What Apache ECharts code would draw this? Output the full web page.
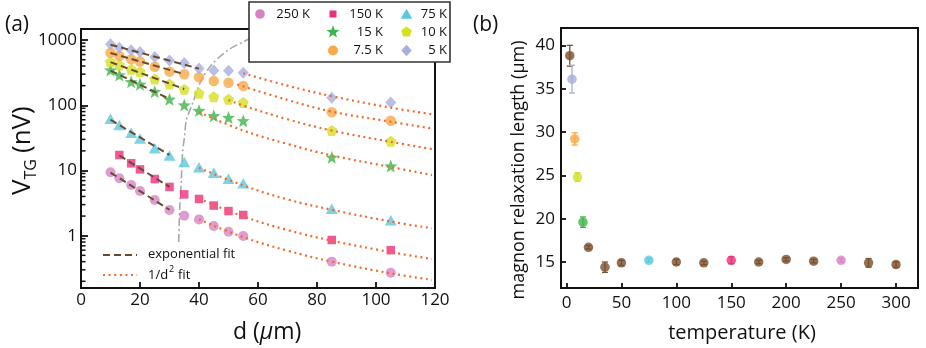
<!DOCTYPE html>
<html><head><meta charset="utf-8">
<script src="https://cdn.jsdelivr.net/npm/echarts@6/dist/echarts.min.js"></script>
<style>html,body{margin:0;padding:0;background:#fff}#c{width:926px;height:348px}</style>
</head><body><div id="c"></div>
<script>
// ---------------- data: panel (a) ----------------
const distances = [10, 13, 17, 20, 25, 30, 35, 40, 45, 50, 55, 85, 105];
const seriesNames = ['250 K', '150 K', '75 K', '15 K', '10 K', '7.5 K', '5 K'];
const v250K = [9.4, 7.6, 6.0, 4.85, 3.53, 2.48, 2.03, 1.78, 1.41, 1.15, 0.99, 0.40, 0.27];
const v150K = [null, 17.3, 12.9, 10.4, 7.4, 5.6, 4.3, 3.66, 2.9, 2.39, 2.08, 0.86, 0.60];
const v75K  = [62, 50, 38, 31, 22, 17, 13.5, 11.2, 9.2, 7.5, 6.4, 2.6, 1.72];
const v15K  = [348, 292, 230, 210, 162, 124, 101, 83, 69, 65, 58, 16, 11.7];
const v10K  = [466, 415, 357, 328, 253, 212, 176, 153, 135, 124, 110, 41, 28];
const v7_5K = [641, 570, 508, 470, 391, 328, 299, 269, 236, 222, 198, 78, 58];
const v5K   = [863, 764, 698, 657, 550, 486, 446, 367, 342, 339, 316, 131, 110];

// exponential fits (dashed): [d, V]
const expFit250K = [[10, 9.3], [30, 2.5]];
const expFit150K = [[13, 17], [30, 5.6]];
const expFit75K  = [[10, 60], [30, 17.3]];
const expFit15K  = [[10, 340], [30, 125]];
const expFit10K  = [[10, 460], [35, 178]];
const expFit7_5K = [[10, 635], [35, 300]];
const expFit5K   = [[10, 850], [40, 365]];

// 1/d^2 fits (dotted): [d, V]
const invFit250K = [[40, 1.78], [55, 0.95], [70, 0.59], [85, 0.40], [105, 0.265], [119, 0.21]];
const invFit150K = [[40, 3.7], [55, 1.98], [70, 1.22], [85, 0.84], [105, 0.56], [119, 0.44]];
const invFit75K  = [[40, 11], [55, 5.9], [70, 3.6], [85, 2.5], [105, 1.65], [119, 1.3]];
const invFit15K  = [[40, 78], [55, 41], [70, 25.5], [85, 17], [105, 11.3], [119, 8.5]];
const invFit10K  = [[50, 120], [55, 99], [70, 61], [85, 41], [105, 27.5], [119, 21.3]];
const invFit7_5K = [[53, 208], [70, 121], [85, 80], [105, 56], [119, 44]];
const invFit5K   = [[55, 310], [70, 200], [85, 138], [105, 92], [119, 73]];

// boundary guide curve (dash-dot): [d, V]
const boundaryCurve = [[33.1, 0.8], [33.5, 2.8], [34.0, 7.2], [34.5, 20.6], [35.1, 33], [35.7, 59],
  [37.4, 95], [40.8, 244], [44.7, 441], [49.9, 705], [54.4, 912], [57, 1050], [60, 1300]];

const minorTickValues = [0.2, 0.3, 0.4, 0.5, 0.6, 0.7, 0.8, 0.9, 2, 3, 4, 5, 6, 7, 8, 9,
  20, 30, 40, 50, 60, 70, 80, 90, 200, 300, 400, 500, 600, 700, 800, 900];
const xTicksA = [0, 20, 40, 60, 80, 100, 120];

// ---------------- data: panel (b) ----------------
const temps   = [3, 5, 7.5, 10, 15, 20, 35, 50, 75, 100, 125, 150, 175, 200, 225, 250, 275, 300];
const lengths = [38.8, 36.1, 29.2, 24.8, 19.6, 16.7, 14.4, 14.9, 15.2, 15.0, 14.9, 15.2, 15.0, 15.3, 15.1, 15.2, 14.9, 14.7];
const errors  = [1.2, 1.6, 0.7, 0.5, 0.6, 0.2, 0.6, 0.3, 0.2, 0.3, 0.2, 0.4, 0.2, 0.2, 0.2, 0.2, 0.5, 0.3];
const xTicksB = [0, 50, 100, 150, 200, 250, 300];
const yTicksB = [15, 20, 25, 30, 35, 40];

// ---------------- styles ----------------
const FONT = 'Open Sans';
const INK = '#111';
const COLORS = {'250 K': '#d683c4', '150 K': '#ec2f7c', '75 K': '#5ac8dd', '15 K': '#3db54a',
  '10 K': '#d5e023', '7.5 K': '#f9a94a', '5 K': '#a6aedd'};
const BROWN = '#7b4f2c';
const tempColor = {5: COLORS['5 K'], 7.5: COLORS['7.5 K'], 10: COLORS['10 K'], 15: COLORS['15 K'],
  75: COLORS['75 K'], 150: COLORS['150 K'], 250: COLORS['250 K']};
function colorFor(t) { return tempColor[t] || BROWN; }

function starPts(r, ri) { const p = []; for (let k = 0; k < 10; k++) { const a = (-90 + k * 36) * Math.PI / 180; const rr = k % 2 ? ri : r; p.push([rr * Math.cos(a), rr * Math.sin(a)]); } return p; }
function pentPts(r) { const p = []; for (let k = 0; k < 5; k++) { const a = (-90 + k * 72) * Math.PI / 180; p.push([r * Math.cos(a), r * Math.sin(a)]); } return p; }
function toPath(pts) { return 'path://' + pts.map((q, i) => (i ? 'L' : 'M') + q[0].toFixed(3) + ',' + q[1].toFixed(3)).join('') + 'Z'; }
const STAR = toPath(starPts(1, 0.42));
const PENT = toPath(pentPts(1));
const SYM = {'250 K': 'circle', '150 K': 'rect', '75 K': 'triangle', '15 K': STAR, '10 K': PENT, '7.5 K': 'circle', '5 K': 'diamond'};
const SIZE = {'250 K': 10, '150 K': 8.5, '75 K': [12, 10.5], '15 K': 13, '10 K': 11, '7.5 K': 10.5, '5 K': [11, 12]};

const valuesByName = {'250 K': v250K, '150 K': v150K, '75 K': v75K, '15 K': v15K, '10 K': v10K, '7.5 K': v7_5K, '5 K': v5K};
const expByName = {'250 K': expFit250K, '150 K': expFit150K, '75 K': expFit75K, '15 K': expFit15K, '10 K': expFit10K, '7.5 K': expFit7_5K, '5 K': expFit5K};
const invByName = {'250 K': invFit250K, '150 K': invFit150K, '75 K': invFit75K, '15 K': invFit15K, '10 K': invFit10K, '7.5 K': invFit7_5K, '5 K': invFit5K};

const series = [];
series.push({type: 'line', xAxisIndex: 0, yAxisIndex: 0, data: boundaryCurve, smooth: 0.3, showSymbol: false,
  lineStyle: {color: '#a9a9a9', width: 1.6, type: [8, 3, 2, 3]}, z: 1, silent: true});
seriesNames.forEach(name => {
  const vals = valuesByName[name];
  series.push({name, type: 'scatter', xAxisIndex: 0, yAxisIndex: 0,
    data: distances.map((d, i) => [d, vals[i]]).filter(p => p[1] != null),
    symbol: SYM[name], symbolSize: SIZE[name], itemStyle: {color: COLORS[name]}, z: 2});
  series.push({type: 'line', xAxisIndex: 0, yAxisIndex: 0, data: expByName[name], showSymbol: false,
    lineStyle: {color: '#6b4a2e', width: 2, type: [7, 4]}, z: 3, silent: true});
  series.push({type: 'line', xAxisIndex: 0, yAxisIndex: 0, data: invByName[name], showSymbol: false, smooth: 0.4,
    lineStyle: {color: '#f26a2b', width: 2.2, type: [2, 3.6]}, z: 3, silent: true});
});
series.push({type: 'custom', xAxisIndex: 0, yAxisIndex: 0, data: minorTickValues.map(v => [0, v]), clip: false, silent: true, z: 5,
  renderItem: (p, api) => { const c = api.coord([api.value(0), api.value(1)]);
    return {type: 'line', shape: {x1: c[0], y1: c[1], x2: c[0] + 4.5, y2: c[1]}, style: {stroke: INK, lineWidth: 1.5}}; }});

// panel b
const bData = temps.map((t, i) => [t, lengths[i], errors[i]]);
series.push({type: 'custom', xAxisIndex: 1, yAxisIndex: 1, data: bData, z: 2, silent: true,
  renderItem: (p, api) => {
    const x = api.value(0), y = api.value(1), e = api.value(2);
    const top = api.coord([x, y + e]), bot = api.coord([x, y - e]);
    const col = colorFor(x); const hw = 3;
    const st = {stroke: col, lineWidth: 1.3};
    return {type: 'group', children: [
      {type: 'line', shape: {x1: top[0], y1: top[1], x2: bot[0], y2: bot[1]}, style: st},
      {type: 'line', shape: {x1: top[0] - hw, y1: top[1], x2: top[0] + hw, y2: top[1]}, style: st},
      {type: 'line', shape: {x1: bot[0] - hw, y1: bot[1], x2: bot[0] + hw, y2: bot[1]}, style: st}]};
  }});
series.push({type: 'scatter', xAxisIndex: 1, yAxisIndex: 1, data: bData.map(d => [d[0], d[1]]), symbol: 'circle', symbolSize: 9.5,
  itemStyle: {color: p => colorFor(p.value[0])}, z: 3});

// ---------------- graphic: legends & titles ----------------
const g = [];
g.push({type: 'rect', shape: {x: 249, y: 2, width: 201, height: 60}, style: {fill: '#fff', stroke: '#333', lineWidth: 1.6}, z: 100});
function poly(pts, cx, cy, s, col) { return {type: 'polygon', shape: {points: pts.map(q => [cx + q[0] * s, cy + q[1] * s])}, style: {fill: col}, z: 101}; }
const rows = [14, 32, 50.5];
g.push({type: 'circle', shape: {cx: 260, cy: rows[0], r: 4.8}, style: {fill: COLORS['250 K']}, z: 101});
g.push({type: 'rect', shape: {x: 329.5, y: rows[0] - 3.5, width: 7, height: 7}, style: {fill: COLORS['150 K']}, z: 101});
g.push(poly([[0, -5], [5.5, 4.5], [-5.5, 4.5]], 406.5, rows[0], 1.05, COLORS['75 K']));
g.push(poly(starPts(1, 0.42), 333, rows[1], 6.8, COLORS['15 K']));
g.push(poly(pentPts(1), 406.5, rows[1], 5.6, COLORS['10 K']));
g.push({type: 'circle', shape: {cx: 333, cy: rows[2], r: 5}, style: {fill: COLORS['7.5 K']}, z: 101});
g.push(poly([[0, -5.5], [5, 0], [0, 5.5], [-5, 0]], 406.5, rows[2], 1.05, COLORS['5 K']));
function ltext(t, x, y) { return {type: 'text', x, y, style: {text: t, fill: INK, font: '13px "' + FONT + '"', align: 'right', verticalAlign: 'middle'}, z: 101}; }
g.push(ltext('250 K', 310, rows[0]), ltext('150 K', 383, rows[0]), ltext('75 K', 447, rows[0]));
g.push(ltext('15 K', 383, rows[1]), ltext('10 K', 447, rows[1]));
g.push(ltext('7.5 K', 383, rows[2]), ltext('5 K', 447, rows[2]));
// fit legend
g.push({type: 'line', shape: {x1: 103, y1: 255, x2: 137, y2: 255}, style: {stroke: '#6b4a2e', lineWidth: 2, lineDash: [7, 4]}, z: 50});
g.push({type: 'line', shape: {x1: 103, y1: 275, x2: 137, y2: 275}, style: {stroke: '#f26a2b', lineWidth: 2.2, lineDash: [2, 3.6]}, z: 50});
g.push({type: 'text', x: 148, y: 254, style: {text: 'exponential fit', fill: INK, font: '13px "' + FONT + '"', verticalAlign: 'middle'}, z: 50});
g.push({type: 'text', x: 148, y: 275, style: {text: '1/d', fill: INK, font: '13px "' + FONT + '"', verticalAlign: 'middle'}, z: 50});
g.push({type: 'text', x: 169, y: 269, style: {text: '2', fill: INK, font: '9px "' + FONT + '"', verticalAlign: 'middle'}, z: 50});
g.push({type: 'text', x: 178, y: 275, style: {text: 'fit', fill: INK, font: '13px "' + FONT + '"', verticalAlign: 'middle'}, z: 50});
// panel labels
g.push({type: 'text', x: 5, y: 25, style: {text: '(a)', fill: INK, font: '21px "' + FONT + '"', verticalAlign: 'middle'}});
g.push({type: 'text', x: 473, y: 25, style: {text: '(b)', fill: INK, font: '21px "' + FONT + '"', verticalAlign: 'middle'}});
// y title (a): rotated
g.push({type: 'group', x: 0, y: 195, rotation: Math.PI / 2, children: [
  {type: 'text', x: 0, y: 23, style: {text: 'V', fill: INK, font: '26px "' + FONT + '"', verticalAlign: 'middle'}},
  {type: 'text', x: 15.5, y: 31, style: {text: 'TG', fill: INK, font: '16px "' + FONT + '"', verticalAlign: 'middle'}},
  {type: 'text', x: 42, y: 23, style: {text: '(nV)', fill: INK, font: '26px "' + FONT + '"', verticalAlign: 'middle'}}
]});
// x title (a)
g.push({type: 'text', x: 233, y: 332, style: {text: '{n|d (}{i|μ}{n|m)}', verticalAlign: 'middle',
  rich: {n: {fontSize: 23, fontFamily: FONT, fill: INK}, i: {fontSize: 23, fontFamily: FONT, fontStyle: 'italic', fill: INK}}}});
// titles (b)
g.push({type: 'text', x: 742, y: 333, style: {text: 'temperature (K)', fill: INK, font: '20px "' + FONT + '"', align: 'center', verticalAlign: 'middle'}});
g.push({type: 'text', x: 519, y: 170, rotation: Math.PI / 2, style: {text: 'magnon relaxation length (μm)', fill: INK, font: '18px "' + FONT + '"', align: 'center', verticalAlign: 'middle'}});

const axisCommon = {
  axisLine: {show: true, onZero: false, lineStyle: {color: INK, width: 2}},
  axisTick: {show: true, inside: true, length: 6, lineStyle: {color: INK, width: 1.8}},
  axisLabel: {color: INK, fontSize: 17, fontFamily: FONT},
  splitLine: {show: false}
};

const option = {
  animation: false,
  textStyle: {fontFamily: FONT},
  grid: [
    {left: 81, top: 29, width: 354, height: 259, show: true, borderColor: INK, borderWidth: 2},
    {left: 561, top: 28, width: 357, height: 260, show: true, borderColor: INK, borderWidth: 2}
  ],
  xAxis: [
    Object.assign({}, axisCommon, {gridIndex: 0, type: 'value', min: 0, max: 120, interval: 20,
      axisLabel: Object.assign({}, axisCommon.axisLabel, {margin: 4, customValues: xTicksA}),
      axisTick: Object.assign({}, axisCommon.axisTick, {customValues: xTicksA})}),
    Object.assign({}, axisCommon, {gridIndex: 1, type: 'value', min: -5, max: 320,
      axisLabel: Object.assign({}, axisCommon.axisLabel, {margin: 7, customValues: xTicksB}),
      axisTick: Object.assign({}, axisCommon.axisTick, {length: 5, customValues: xTicksB})})
  ],
  yAxis: [
    Object.assign({}, axisCommon, {gridIndex: 0, type: 'log', logBase: 10, min: 0.1578, max: 1479,
      axisTick: Object.assign({}, axisCommon.axisTick, {length: 7}),
      axisLabel: Object.assign({}, axisCommon.axisLabel, {margin: 4,
        formatter: v => { const l = Math.log10(v); return Math.abs(l - Math.round(l)) < 1e-6 ? String(Math.round(v)) : ''; }})}),
    Object.assign({}, axisCommon, {gridIndex: 1, type: 'value', min: 12, max: 42,
      axisLabel: Object.assign({}, axisCommon.axisLabel, {margin: 6, customValues: yTicksB}),
      axisTick: Object.assign({}, axisCommon.axisTick, {length: 5, customValues: yTicksB})})
  ],
  series,
  graphic: g
};
const chart = echarts.init(document.getElementById('c'));
chart.setOption(option);
</script></body></html>
